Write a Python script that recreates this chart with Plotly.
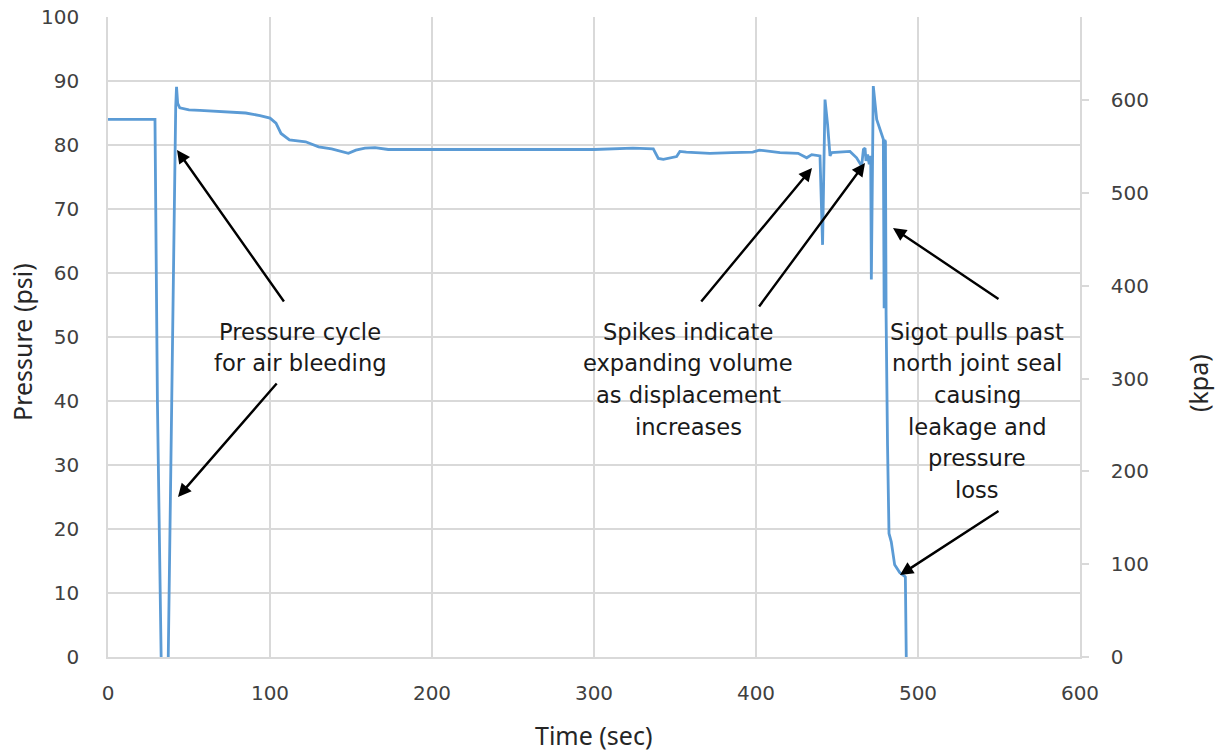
import plotly.graph_objects as go

# ---- data ----
time_sec = [0, 29.0, 30.5, 32.8, 33.5, 36.0, 37.2, 39.5, 41.8, 42.3, 43.0, 44.3, 50, 56.7, 65, 77, 85,
            93.8, 100, 103.7, 106.8, 112, 122, 130, 138, 148.4, 153, 158.6, 164.8, 173, 200,
            250, 300, 324, 336.6, 339.7, 342.8, 351, 353, 357, 371.5, 385, 398, 402, 414.8,
            426, 431.3, 434.4, 439.5, 441.1, 442.6, 444.2, 445.7, 446.7, 458, 462.1, 465.2,
            466.3, 467.3, 467.9, 468.9, 469.9, 470.8, 471.2, 472.0, 472.4, 474.5, 476.5,
            478.6, 479.1, 479.5, 479.9, 480.3, 480.7, 480.9, 481.2, 482.1, 483.5, 485.6,
            488.7, 491.8, 492.2, 492.8]
pressure_psi = [84.0, 84.0, 40.0, 0.0, -2.0, -2.0, 0.0, 45.0, 86.0, 89.1, 86.5, 85.8, 85.5, 85.4, 85.3,
                85.1, 85.0, 84.6, 84.2, 83.4, 81.8, 80.8, 80.5, 79.7, 79.4, 78.7, 79.2, 79.5,
                79.6, 79.3, 79.3, 79.3, 79.3, 79.5, 79.4, 77.9, 77.75, 78.2, 79.0, 78.9, 78.7,
                78.8, 78.9, 79.2, 78.8, 78.7, 78.0, 78.5, 78.3, 64.4, 87.1, 83.2, 78.3, 78.8,
                79.0, 78.0, 76.7, 79.3, 79.5, 77.5, 78.5, 77.0, 78.3, 59.0, 77.7, 89.2, 84.0,
                82.4, 80.9, 54.5, 80.8, 80.5, 53.5, 45.0, 34.0, 33.0, 19.3, 18.0, 14.4, 13.2,
                12.6, 12.5, -1.0]

x_ticks = [0, 100, 200, 300, 400, 500, 600]
psi_ticks = [0, 10, 20, 30, 40, 50, 60, 70, 80, 90, 100]
kpa_ticks = [0, 100, 200, 300, 400, 500, 600]
PSI_TO_KPA = 6.89476

# annotation texts (one entry per line)
note_air = ["Pressure cycle", "for air bleeding"]
note_spikes = ["Spikes indicate", "expanding volume", "as displacement", "increases"]
note_sigot = ["Sigot pulls past", "north joint seal", "causing", "leakage and", "pressure", "loss"]

# ---- figure ----
fig = go.Figure()
fig.add_trace(go.Scatter(x=time_sec, y=pressure_psi, mode="lines",
                         line=dict(color="#5B9BD5", width=2.8), showlegend=False))
# invisible trace to activate the secondary (kPa) axis
fig.add_trace(go.Scatter(x=[0, 600], y=[0, 100 * PSI_TO_KPA], yaxis="y2", mode="lines",
                         line=dict(width=0), opacity=0, showlegend=False, hoverinfo="skip"))

grid = "#d9d9d9"
tickfont = dict(family="DejaVu Sans", size=20, color="#404040")

fig.update_layout(
    width=1231, height=753,
    margin=dict(l=108, r=151, t=17, b=96),
    plot_bgcolor="white", paper_bgcolor="white",
    xaxis=dict(range=[0, 600], tickvals=x_ticks, showgrid=True, gridcolor=grid, gridwidth=1.5,
               zeroline=False, showline=True, linecolor=grid, linewidth=1.5, automargin=False,
               ticks="", tickfont=tickfont, ticklabelstandoff=17),
    yaxis=dict(range=[0, 100], tickvals=psi_ticks, showgrid=True, gridcolor=grid, gridwidth=1.5,
               zeroline=False, showline=True, linecolor=grid, linewidth=1.5, automargin=False,
               ticks="", tickfont=tickfont, ticklabelstandoff=23),
    yaxis2=dict(range=[0, 100 * PSI_TO_KPA], tickvals=kpa_ticks, overlaying="y", side="right",
                showgrid=False, zeroline=False, showline=True, linecolor=grid, linewidth=1.5,
                ticks="outside", ticklen=7, tickcolor=grid, tickwidth=1.5, automargin=False,
                tickfont=tickfont, ticklabelstandoff=18),
)

PLOT_L, PLOT_W, PLOT_B, PLOT_H = 108, 972, 657, 640


def px_to_dom(px, py):
    return (px - PLOT_L) / PLOT_W, (PLOT_B - py) / PLOT_H


title_font = dict(family="Noto Sans", size=25, color="#262626")
for txt, (px, py), ang in [("Pressure (psi)", (22, 342), -90), ("(kpa)", (1198, 383), -90),
                           ("Time (sec)", (593, 735), 0)]:
    x, y = px_to_dom(px, py)
    fig.add_annotation(text=txt, xref="paper", yref="paper", x=x, y=y, textangle=ang,
                       showarrow=False, font=title_font, xanchor="center", yanchor="middle")

note_font = dict(family="DejaVu Sans", size=22.6, color="#1a1a1a")
for lines, cx in [(note_air, 300), (note_spikes, 688), (note_sigot, 977)]:
    for i, line in enumerate(lines):
        x, y = px_to_dom(cx, 331.5 + 31.7 * i)
        fig.add_annotation(text=line, x=x, y=y, xref="paper", yref="paper", showarrow=False,
                           font=note_font, xanchor="center", yanchor="middle")

arrows = [((177, 150), (285, 303)),
          ((178, 497), (278, 382)),
          ((812, 168), (700, 303)),
          ((865, 163), (758, 308)),
          ((893, 228), (1000, 300)),
          ((900, 575), (1000, 510))]
for (hx, hy), (tx, ty) in arrows:
    x, y = px_to_dom(hx, hy)
    ax, ay = px_to_dom(tx, ty)
    fig.add_annotation(x=x, y=y, ax=ax, ay=ay, xref="x domain", yref="y domain",
                       axref="x domain", ayref="y domain",
                       text="", showarrow=True, arrowhead=2, arrowsize=1.1, arrowwidth=2.4,
                       arrowcolor="black", standoff=0, startstandoff=0)

fig.write_html("out.html")
